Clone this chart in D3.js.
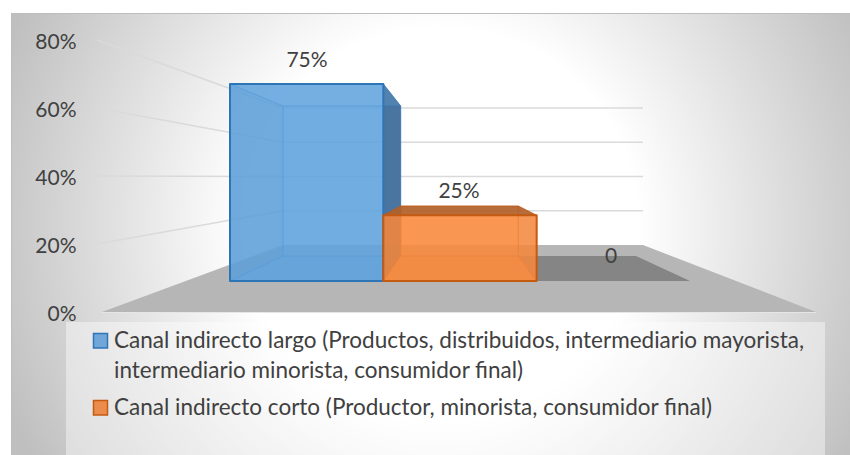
<!DOCTYPE html>
<html>
<head>
<meta charset="utf-8">
<script src="https://cdn.jsdelivr.net/npm/d3@7/dist/d3.min.js"></script>
<style>
html,body{margin:0;padding:0;background:#fff;}
svg{display:block;}
text{font-family:Lato,"Open Sans",sans-serif;fill:#404040;}
</style>
</head>
<body>
<svg id="chart" width="850" height="455"></svg>
<script>
// Chart content
const seriesNames = ["Largo", "Corto", "Otro"];
const seriesValues = [75, 25, 0];
const valueLabels = ["75%", "25%", "0"];
const axisTicks = [0, 20, 40, 60, 80];
const legendLines = [
  ["Canal indirecto largo (Productos, distribuidos, intermediario mayorista,", "intermediario minorista, consumidor final)"],
  ["Canal indirecto corto (Productor, minorista, consumidor final)"]
];
const seriesFill = ["#5b9bd5", "#ed7d31"];
const seriesFront = ["#62a3de", "#f88a3e"];
const seriesEdge = ["#2e75b6", "#c55a11"];
const seriesSide = ["#44709c", "#b0622c"];

const svg = d3.select("#chart");
const defs = svg.append("defs");
const grad = defs.append("radialGradient").attr("id", "panel")
  .attr("gradientUnits", "userSpaceOnUse")
  .attr("cx", 440).attr("cy", 225).attr("r", 470);
grad.append("stop").attr("offset", "0.42").attr("stop-color", "#ffffff");
grad.append("stop").attr("offset", "1").attr("stop-color", "#bfbfbf");

// Panel behind the plot
svg.append("rect").attr("x", 11).attr("y", 13).attr("width", 839).attr("height", 442)
  .attr("fill", "url(#panel)");
svg.append("path").attr("d", "M11.5,455V13.5H850").attr("fill", "none").attr("stroke", "#bdbdbd");

// Value scales for the two depth planes of the walls
const wallFront = d3.scaleLinear().domain([0, 80]).range([312, 40]);
const wallBack = d3.scaleLinear().domain([0, 80]).range([245, 108]);
const xWallFront = 97, xWallBack = 283, xWallRight = 643;

// Value and category scales for the near and far faces of the bars
const barFrontY = d3.scaleLinear().domain([0, 75]).range([281, 84]);
const barBackY = d3.scaleLinear().domain([0, 75]).range([256, 106]);
const barFrontX = d3.scaleBand().domain(seriesNames).range([230, 690]);
const barBackX = d3.scaleBand().domain(seriesNames).range([283, 636]);

const poly = pts => "M" + pts.map(p => p.join(",")).join("L") + "Z";

// Floor
svg.append("path")
  .attr("d", poly([[102, 312], [816, 312], [643, 245], [283, 245]]))
  .attr("fill", "#b6b6b6");
svg.append("line").attr("x1", 102).attr("x2", 816).attr("y1", 312.5).attr("y2", 312.5)
  .attr("stroke", "#e6e6e6");

// Gridlines along the side wall and the back wall
const grid = svg.append("g").attr("fill", "none").attr("stroke", "#dadada").attr("stroke-width", 1.5);
axisTicks.filter(t => t > 0).forEach(t => {
  grid.append("path").attr("d", d3.line()([
    [xWallFront, wallFront(t)], [xWallBack, wallBack(t)], [xWallRight, wallBack(t)]
  ]));
});

// Axis labels
svg.append("g").selectAll("text").data(axisTicks).join("text")
  .attr("x", 76.5).attr("y", d => wallFront(d) + 9)
  .attr("text-anchor", "end").attr("font-size", 21)
  .text(d => d + "%");

// Zero values go first as flat patches, then the boxes left to right,
// so each box overlaps the side of the one before it
const drawOrder = d3.range(seriesValues.length).sort((a, b) =>
  (seriesValues[a] === 0 ? -1 : a) - (seriesValues[b] === 0 ? -1 : b));
drawOrder.forEach(i => {
  const v = seriesValues[i];
  const name = seriesNames[i];
  const x0 = barFrontX(name), x1 = x0 + barFrontX.bandwidth();
  const b0 = barBackX(name), b1 = b0 + barBackX.bandwidth();
  const yT = barFrontY(v), yB = barFrontY(0), bT = barBackY(v), bB = barBackY(0);
  if (v === 0) {
    svg.append("path").attr("d", poly([[x0, yB], [x1, yB], [b1, bB], [b0, bB]])).attr("fill", "#858585");
    return;
  }
  const g = svg.append("g").attr("stroke", seriesEdge[i]).attr("stroke-linejoin", "round");
  const face = (pts, fill, op) => g.append("path").attr("d", poly(pts)).attr("fill", fill)
    .attr("fill-opacity", op).attr("stroke-opacity", 0.5);
  face([[x0, yB], [x1, yB], [b1, bB], [b0, bB]], seriesFill[i], 0.6);
  face([[b0, bT], [b1, bT], [b1, bB], [b0, bB]], seriesFill[i], 0.4);
  // Side faces turned towards the viewer read dark; those seen through the box stay soft
  const sideOutside = b1 > x1;
  face([[x0, yT], [b0, bT], [b0, bB], [x0, yB]], seriesSide[i], 0.4);
  face([[x1, yT], [b1, bT], [b1, bB], [x1, yB]], seriesSide[i], sideOutside ? 0.95 : 0.3);
  const topOutside = bT < yT;
  face([[x0, yT], [x1, yT], [b1, bT], [b0, bT]], topOutside ? seriesSide[i] : seriesFill[i], topOutside ? 0.9 : 0.3);
  g.append("path").attr("d", poly([[x0, yT], [x1, yT], [x1, yB], [x0, yB]]))
    .attr("fill", seriesFront[i]).attr("fill-opacity", 0.82).attr("stroke-width", 2);
});

// Value labels above each bar
const labelY = [67, 198, 263];
const labelX = [307, 459, 611];
svg.append("g").selectAll("text").data(valueLabels).join("text")
  .attr("x", (d, i) => labelX[i]).attr("y", (d, i) => labelY[i])
  .attr("text-anchor", "middle").attr("font-size", 21)
  .text(d => d);

// Legend
svg.append("rect").attr("x", 66).attr("y", 322).attr("width", 759).attr("height", 133)
  .attr("fill", "#ffffff").attr("fill-opacity", 0.42);
const legendKeyY = [333.5, 400.5];
const legendTextY = [347.5, 378, 414.5];
legendLines.forEach((lines, i) => {
  svg.append("rect").attr("x", 93.5).attr("y", legendKeyY[i]).attr("width", 14).attr("height", 14.5)
    .attr("fill", seriesFill[i]).attr("fill-opacity", 0.85)
    .attr("stroke", seriesEdge[i]).attr("stroke-width", 1.5);
});
legendLines.flat().forEach((line, i) => {
  svg.append("text").attr("x", 114).attr("y", legendTextY[i]).attr("font-size", 22.5).text(line);
});
</script>
</body>
</html>
